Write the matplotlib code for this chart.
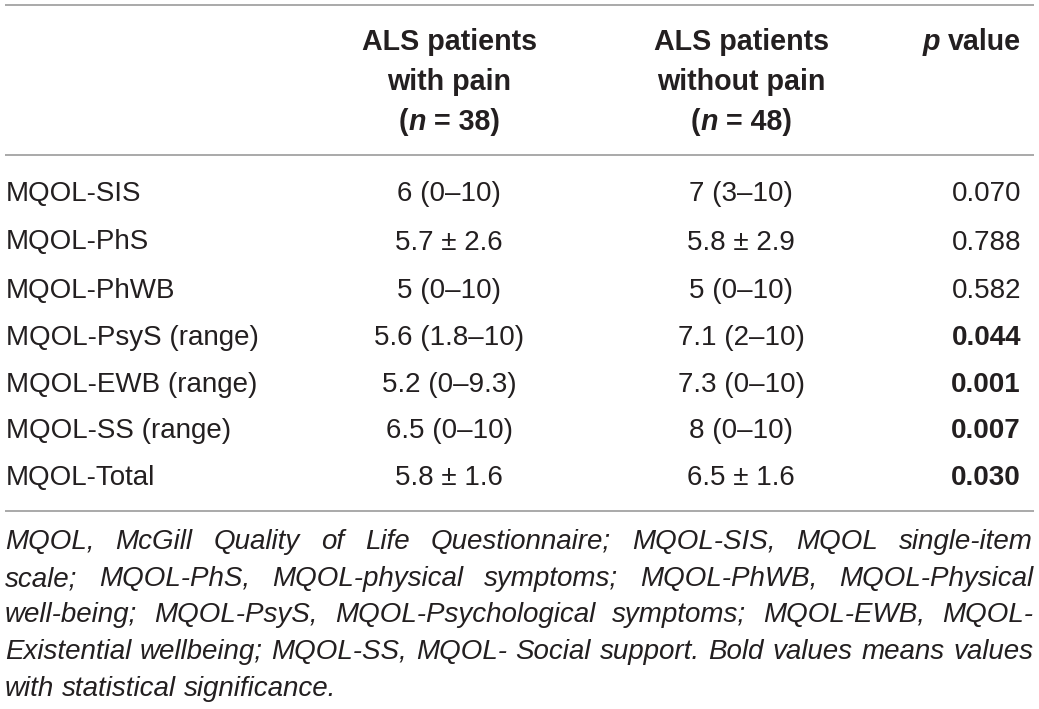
import matplotlib
matplotlib.use("Agg")
import matplotlib.pyplot as plt

# ---- data ----
row_labels = ["MQOL-SIS", "MQOL-PhS", "MQOL-PhWB", "MQOL-PsyS (range)",
              "MQOL-EWB (range)", "MQOL-SS (range)", "MQOL-Total"]
with_pain = ["6 (0\u201310)", "5.7 \u00b1 2.6", "5 (0\u201310)", "5.6 (1.8\u201310)",
             "5.2 (0\u20139.3)", "6.5 (0\u201310)", "5.8 \u00b1 1.6"]
without_pain = ["7 (3\u201310)", "5.8 \u00b1 2.9", "5 (0\u201310)", "7.1 (2\u201310)",
                "7.3 (0\u201310)", "8 (0\u201310)", "6.5 \u00b1 1.6"]
p_values = ["0.070", "0.788", "0.582", "0.044", "0.001", "0.007", "0.030"]
significant = [False, False, False, True, True, True, True]
header_col1 = ["ALS patients", "with pain", "38"]
header_col2 = ["ALS patients", "without pain", "48"]
footnote_lines = [
    "MQOL, McGill Quality of Life Questionnaire; MQOL-SIS, MQOL single-item",
    "scale; MQOL-PhS, MQOL-physical symptoms; MQOL-PhWB, MQOL-Physical",
    "well-being; MQOL-PsyS, MQOL-Psychological symptoms; MQOL-EWB, MQOL-",
    "Existential wellbeing; MQOL-SS, MQOL- Social support. Bold values means values",
    "with statistical significance.",
]

W, H = 1039, 709
fig = plt.figure(figsize=(W / 100, H / 100), dpi=100)
ax = fig.add_axes([0, 0, 1, 1])
ax.set_xlim(0, W)
ax.set_ylim(H, 0)
ax.axis("off")
renderer = fig.canvas.get_renderer()

FONT = "Liberation Sans"
TXT = "#231f20"
LINE = "#a3a3a3"
FS = 20.0        # table body text (pt)
FS_HEAD = 20.6   # header text (pt)
FS_NOTE = 20.0   # footnote (pt)


def width_of(s, **kw):
    t = ax.text(0, 0, s, family=FONT, **kw)
    bb = t.get_window_extent(renderer)
    t.remove()
    return bb.width


def space_width(**kw):
    return width_of("x x", **kw) - width_of("xx", **kw)


def draw_runs(x, y, runs, ha="center"):
    # runs: list of (text, style, extra_gap_after)
    widths = [width_of(s, **st) + g for s, st, g in runs]
    total = sum(widths)
    if ha == "center":
        x0 = x - total / 2
    elif ha == "right":
        x0 = x - total
    else:
        x0 = x
    for (s, st, g), w in zip(runs, widths):
        ax.text(x0, y, s, family=FONT, ha="left", va="baseline", color=TXT, **st)
        x0 += w


# ---- rules ----
for yl in (5, 155, 511):
    ax.plot([5, 1034], [yl, yl], color=LINE, lw=1.3, solid_capstyle="butt")

# ---- header ----
B = dict(fontsize=FS_HEAD, fontweight="bold")
BI = dict(fontsize=FS_HEAD, fontweight="bold", style="italic")
sp = space_width(**B)
hy = [50, 90, 130]
col1_x, col2_x, col3_x = 449, 741, 1021
for cx, hdr in ((col1_x, header_col1), (col2_x, header_col2)):
    ax.text(cx, hy[0], hdr[0], family=FONT, ha="center", va="baseline", color=TXT, **B)
    ax.text(cx, hy[1], hdr[1], family=FONT, ha="center", va="baseline", color=TXT, **B)
    draw_runs(cx, hy[2], [("(", B, 0), ("n", BI, sp), ("= " + hdr[2] + ")", B, 0)])
wv = width_of("value", **B)
ax.text(col3_x, hy[0], "value", family=FONT, ha="right", va="baseline", color=TXT, **B)
ax.text(col3_x - wv - sp, hy[0], "p", family=FONT, ha="right", va="baseline", color=TXT, **BI)

# ---- body ----
R = dict(fontsize=FS)
RB = dict(fontsize=FS, fontweight="bold")
row_y = [201, 249.5, 298, 345, 391.5, 438, 485]
for i, lab in enumerate(row_labels):
    y = row_y[i]
    ax.text(6, y, lab, family=FONT, ha="left", va="baseline", color=TXT, **R)
    ax.text(col1_x, y, with_pain[i], family=FONT, ha="center", va="baseline", color=TXT, **R)
    ax.text(col2_x, y, without_pain[i], family=FONT, ha="center", va="baseline", color=TXT, **R)
    st = RB if significant[i] else R
    ax.text(col3_x, y, p_values[i], family=FONT, ha="right", va="baseline", color=TXT, **st)

# ---- footnote (justified) ----
left, right = 5, 1033
note_y = [549, 586, 622, 659, 696]
for k, line in enumerate(footnote_lines):
    words = line.split(" ")
    fs = FS_NOTE
    NI = dict(fontsize=fs, style="italic")
    ws = [width_of(w, **NI) for w in words]
    nsp = space_width(**NI)
    natural = sum(ws) + nsp * (len(words) - 1)
    last = k == len(footnote_lines) - 1
    if not last and natural > (right - left):
        fs = FS_NOTE * (right - left) / natural * 0.995
        NI = dict(fontsize=fs, style="italic")
        ws = [width_of(w, **NI) for w in words]
        nsp = space_width(**NI)
    if last or len(words) == 1:
        gap = nsp
    else:
        gap = (right - left - sum(ws)) / (len(words) - 1)
    x = left
    for w, wd in zip(words, ws):
        ax.text(x, note_y[k], w, family=FONT, ha="left", va="baseline", color=TXT, **NI)
        x += wd + gap

fig.savefig("out.png", dpi=100)
